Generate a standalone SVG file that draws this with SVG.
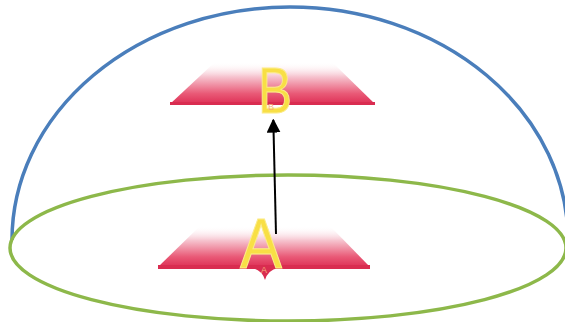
<svg xmlns="http://www.w3.org/2000/svg" width="565" height="322" viewBox="0 0 565 322">
  <defs>
    <linearGradient id="plate" x1="0" y1="0" x2="0" y2="1">
      <stop offset="0" stop-color="#ffffff" stop-opacity="0"/>
      <stop offset="0.35" stop-color="#f6c4cf"/>
      <stop offset="0.75" stop-color="#e95a77"/>
      <stop offset="1" stop-color="#de2f55"/>
    </linearGradient>
    <marker id="arrow" viewBox="0 0 10 10" refX="9" refY="5" markerWidth="7" markerHeight="7" orient="auto-start-reverse" markerUnits="strokeWidth">
      <path d="M0,0 L10,5 L0,10 z" fill="#000"/>
    </marker>
    <style>
      .big { font-family: "Liberation Sans", Arial, sans-serif; fill: #f8df45; stroke: #fbeb8a; stroke-width: 1; }
      .small { font-family: "Liberation Sans", Arial, sans-serif; fill: #f6b07a; font-size: 9px; }
      .edge { fill: #d92c50; }
    </style>
  </defs>
  <rect width="565" height="322" fill="#ffffff"/>
  <path id="dome" d="M12,240 A278,233 0 0 1 568,240" fill="none" stroke="#4a7ebb" stroke-width="3.5"/>
  <ellipse id="base" cx="288" cy="248" rx="278" ry="73" fill="none" stroke="#8db84a" stroke-width="3.5"/>
  <g id="nodeB">
    <path d="M215,62 L332,62 L375,104 L170,104 Z" fill="url(#plate)"/>
    <rect x="170" y="102" width="205" height="3" class="edge"/>
    <text x="258" y="113" class="big" font-size="64" textLength="34" lengthAdjust="spacingAndGlyphs">B</text>
    <text x="268" y="110" class="small">B</text>
  </g>
  <g id="nodeA">
    <path d="M200,226 L330,226 L370,267 L158,267 Z" fill="url(#plate)"/>
    <rect x="158" y="265" width="212" height="4" class="edge"/>
    <path d="M252,268 Q262,270 265,280 Q268,270 278,268 Z" fill="#d92c50"/>
    <text x="240" y="268" class="big" font-size="70" textLength="42" lengthAdjust="spacingAndGlyphs">A</text>
    <text x="261" y="273" class="small">A</text>
  </g>
  <g id="connectors">
    <line x1="276" y1="234" x2="273.3" y2="120" stroke="#000" stroke-width="2" marker-end="url(#arrow)"/>
  </g>
</svg>
